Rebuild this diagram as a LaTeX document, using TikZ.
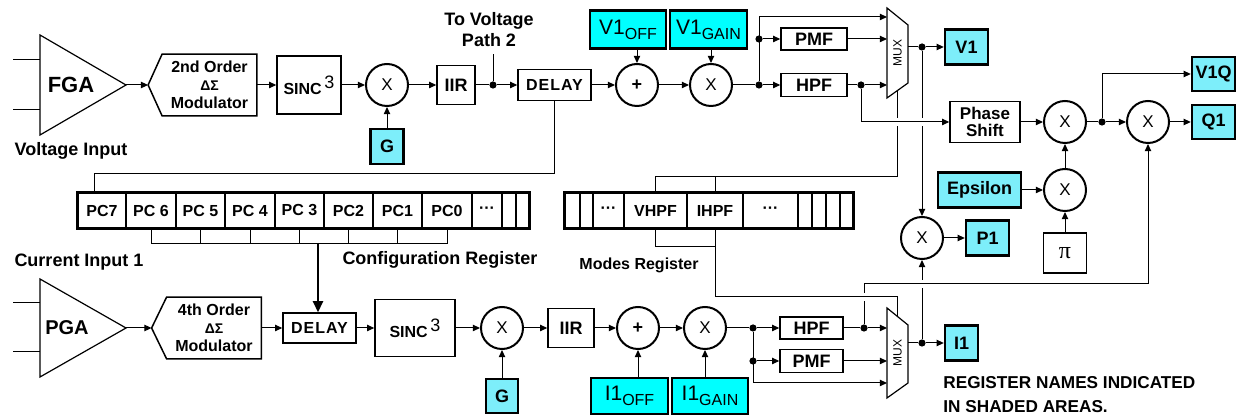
\documentclass[tikz,border=0pt]{standalone}
\usepackage{fontspec}
\setmainfont{Liberation Sans}
\newfontfamily\pifont{Liberation Serif}
\newfontfamily\wideletters[LetterSpace=6.0]{Liberation Sans}
\usetikzlibrary{arrows.meta,positioning,calc}
\definecolor{regcolor}{RGB}{125,238,250}
\definecolor{calcolor}{RGB}{0,255,255}
\newcommand{\regsub}[2]{#1\raisebox{-2.5pt}{\fontsize{8}{9}\selectfont #2}}
\newcommand{\sincthree}{SINC\,{\mdseries\fontsize{9}{10}\selectfont\raisebox{3pt}{3}}}

\begin{document}
\begin{tikzpicture}[x=0.5pt, y=-0.5pt,
    block/.style={rectangle, draw, line width=0.75pt, inner sep=0pt, align=center, font=\bfseries\fontsize{9}{10}\selectfont},
    regbox/.style={block, fill=regcolor, line width=1.2pt, minimum width=21.5pt, minimum height=17.5pt},
    calbox/.style={rectangle, draw, fill=calcolor, line width=1.2pt, inner sep=0pt, minimum width=38pt, minimum height=19pt, font=\fontsize{10.5}{12}\selectfont},
    mult/.style={circle, draw, line width=1pt, minimum size=21pt, inner sep=0pt, font=\fontsize{8.5}{10}\selectfont},
    modtext/.style={inner sep=0pt, minimum width=47pt, minimum height=30.5pt, align=center, font=\bfseries\fontsize{8}{9}\selectfont},
    muxtext/.style={inner sep=0pt, rotate=90, font=\fontsize{6}{7}\selectfont},
    cell/.style={rectangle, draw, line width=0.6pt, minimum height=17.5pt, inner sep=0pt, font=\bfseries\fontsize{8}{9}\selectfont},
    wire/.style={line width=0.5pt},
    arrow/.style={wire, -{Triangle[length=3.6pt, width=3.2pt]}},
    junc/.style={circle, fill, inner sep=0pt, minimum size=3.6pt},
    txt/.style={font=\bfseries\fontsize{9}{10.5}\selectfont, align=center},
    gap/.style={draw=white, line width=4pt}
]
    \useasboundingbox (0,0) rectangle (1238,416);

    % Voltage channel
    \coordinate (fgaout) at (126,85);
    \draw[line width=0.6pt] (40,35) -- (fgaout) -- (40,135) -- cycle;
    \draw[wire] (13,60) -- (40,60) (13,110) -- (40,110);
    \node[font=\bfseries\fontsize{11}{12}\selectfont] (fga) at (71,85) {FGA};
    \node[txt] (vin) at (71,151) {Voltage Input};

    \node[modtext] (modV) at (209.5,85) {2nd Order\\{\fontsize{7}{8}\selectfont ΔΣ}\\Modulator};
    \coordinate (modVin) at ($(modV.west)+(-14,0)$);
    \draw[line width=0.75pt] (modVin) -- (modV.north west) -- (modV.north east) -- (modV.south east) -- (modV.south west) -- cycle;

    \node[block, minimum width=32pt, minimum height=29pt, font=\bfseries\fontsize{8}{9}\selectfont] (sincV) at (309,85) {\sincthree};
    \node[mult] (multV) at (387,85) {X};
    \node[regbox, minimum width=16.5pt] (gV) at (387,146.5) {G};
    \node[block, minimum width=19pt, minimum height=19.5pt] (iirV) at (456,85) {IIR};
    \node[junc] (jVa) at (493,85) {};
    \node[txt] (topath) at (489,30) {To Voltage\\Path 2};
    \node[block, minimum width=36.5pt, minimum height=15.5pt] (delayV) at (554.5,85) {{\wideletters\bfseries\fontsize{8}{9}\selectfont DELAY}};
    \node[mult, font=\bfseries\fontsize{9}{10}\selectfont] (addV) at (637,85) {+};
    \node[calbox] (offV) at (628,29.5) {\regsub{V1}{OFF}};
    \node[mult] (gmultV) at (711,85) {X};
    \node[calbox, minimum width=38.5pt] (gainV) at (708.5,29.5) {\regsub{V1}{GAIN}};
    \node[junc] (jVb) at (759,85) {};
    \node[junc] (jVc) at (759,39) {};
    \node[block, minimum width=33pt, minimum height=11pt] (pmfV) at (814,39) {PMF};
    \node[block, minimum width=33pt, minimum height=11.5pt] (hpfV) at (814,85) {HPF};
    \node[junc] (jVd) at (861,85) {};

    % Voltage MUX
    \node[muxtext] (muxV) at (897.5,53) {MUX};
    \draw[line width=0.6pt] ($(muxV)+(-10.5,-45)$) -- ($(muxV)+(10.5,-28)$) -- ($(muxV)+(10.5,30)$) -- ($(muxV)+(-10.5,45)$) -- cycle;
    \coordinate (muxVin) at ($(muxV)+(-10.5,0)$);
    \coordinate (muxVa) at ($(muxV)+(-10.5,-36)$);
    \coordinate (muxVout) at ($(muxV)+(10.5,-6)$);
    \coordinate (muxVsel) at ($(muxV)+(0,38)$);
    \node[junc] (jVe) at (922,47) {};
    \node[regbox] (v1) at (966.5,47) {V1};

    % Phase and power section
    \node[block, minimum width=35pt, minimum height=20.5pt, font=\bfseries\fontsize{8.5}{8.5}\selectfont] (phase) at (985,122) {Phase\\Shift};
    \node[mult] (multPh) at (1065,122) {X};
    \node[regbox, minimum width=41.5pt] (eps) at (979.5,190) {Epsilon};
    \node[mult] (multE) at (1065,190) {X};
    \node[block, minimum width=21.5pt, minimum height=20pt, font=\fontsize{12}{13}\selectfont] (piconst) at (1065,253) {{\pifont π}};
    \node[junc] (jQ) at (1102,122) {};
    \node[regbox, minimum height=17pt] (v1q) at (1213.5,74) {V1Q};
    \node[mult] (multQ) at (1148,122) {X};
    \node[regbox, minimum height=17pt] (q1) at (1213.5,122) {Q1};
    \node[mult] (multP) at (922,238) {X};
    \node[regbox] (p1) at (987.5,238) {P1};

    % Current channel
    \coordinate (pgaout) at (126,328);
    \draw[line width=0.6pt] (40,279) -- (pgaout) -- (40,377) -- cycle;
    \draw[wire] (13,303) -- (40,303) (13,352) -- (40,352);
    \node[font=\bfseries\fontsize{10}{11}\selectfont] (pga) at (67,328) {PGA};
    \node[txt] (cin) at (79,262) {Current Input 1};

    \node[modtext] (modI) at (214,328) {4th Order\\{\fontsize{7}{8}\selectfont ΔΣ}\\Modulator};
    \coordinate (modIin) at ($(modI.west)+(-15,0)$);
    \draw[line width=0.75pt] (modIin) -- (modI.north west) -- (modI.north east) -- (modI.south east) -- (modI.south west) -- cycle;

    \node[block, minimum width=36.5pt, minimum height=15pt] (delayI) at (319.5,328) {{\wideletters\bfseries\fontsize{8}{9}\selectfont DELAY}};
    \node[block, minimum width=40pt, minimum height=28.5pt, font=\bfseries\fontsize{8}{9}\selectfont] (sincI) at (415,328) {\sincthree};
    \node[mult] (multI) at (502,328) {X};
    \node[regbox, minimum width=16pt, minimum height=17pt] (gI) at (502,396) {G};
    \node[block, minimum width=23pt, minimum height=19.5pt] (iirI) at (571,328) {IIR};
    \node[mult, font=\bfseries\fontsize{9}{10}\selectfont] (addI) at (638,328) {+};
    \node[calbox, minimum width=38.5pt, minimum height=18pt] (offI) at (629.5,396) {\regsub{I1}{OFF}};
    \node[mult] (gmultI) at (705,328) {X};
    \node[calbox, minimum height=18pt] (gainI) at (710,396) {\regsub{I1}{GAIN}};
    \node[junc] (jIa) at (753,328) {};
    \node[junc] (jIb) at (753,361) {};
    \node[block, minimum width=31.5pt, minimum height=11pt] (hpfI) at (811.5,328) {HPF};
    \node[block, minimum width=31.5pt, minimum height=11.5pt] (pmfI) at (811.5,361) {PMF};
    \node[junc] (jIc) at (864,328) {};

    % Current MUX
    \node[muxtext] (muxI) at (897.5,353) {MUX};
    \draw[line width=0.6pt] ($(muxI)+(-10.5,-45)$) -- ($(muxI)+(10.5,-28)$) -- ($(muxI)+(10.5,30)$) -- ($(muxI)+(-10.5,45)$) -- cycle;
    \coordinate (muxIin) at ($(muxI)+(-10.5,0)$);
    \coordinate (muxIc) at ($(muxI)+(-10.5,30)$);
    \coordinate (muxIout) at ($(muxI)+(10.5,-10)$);
    \coordinate (muxIsel) at ($(muxI)+(0,-37)$);
    \node[junc] (jId) at (922,343) {};
    \node[regbox, minimum width=16.5pt] (i1) at (961.5,343) {I1};

    % Registers
    \foreach \a/\b/\t [count=\i] in {78/126/PC7, 126/176/PC 6, 176/225/PC 5, 225/275/PC 4, 275/324/PC 3, 324/373/PC2, 373/422/PC1, 422/472/PC0, 472/502/···, 502/516/{}, 516/529/{}} {
        \pgfmathsetmacro{\w}{(\b-\a)*0.5}
        \node[cell, minimum width=\w pt] (cfg\i) at ({(\a+\b)/2},210.5) {\t};
    }
    \draw[line width=1.1pt] (cfg1.north west) rectangle (cfg11.south east);
    \node[txt] (cfglabel) at (440,260) {Configuration Register};

    \foreach \a/\b/\t [count=\i] in {565/580/{}, 580/593/{}, 593/624/···, 624/687/VHPF, 687/743/IHPF, 743/798/···, 798/812/{}, 812/826/{}, 826/840/{}, 840/853/{}} {
        \pgfmathsetmacro{\w}{(\b-\a)*0.5}
        \node[cell, minimum width=\w pt] (mode\i) at ({(\a+\b)/2},210.5) {\t};
    }
    \draw[line width=1.1pt] (mode1.north west) rectangle (mode10.south east);
    \node[txt, font=\bfseries\fontsize{8}{9}\selectfont] (modelabel) at (639,265) {Modes Register};

    \node[txt, align=left, anchor=west, inner sep=0pt, font=\bfseries\fontsize{8.6}{12}\selectfont] (note) at (943,395) {REGISTER NAMES INDICATED\\IN SHADED AREAS.};

    % Arrows: voltage channel
    \draw[arrow] (fgaout) -- (modVin);
    \draw[arrow] (modV.east) -- (sincV);
    \draw[arrow] (sincV) -- (multV);
    \draw[arrow] (gV) -- (multV);
    \draw[arrow] (multV) -- (iirV);
    \draw[wire] (iirV) -- (jVa);
    \draw[wire] (jVa) -- (jVa |- topath.south);
    \draw[arrow] (jVa) -- (delayV);
    \draw[arrow] (delayV) -- (addV);
    \draw[arrow] (offV.south -| addV) -- (addV);
    \draw[arrow] (addV) -- (gmultV);
    \draw[arrow] (gainV.south -| gmultV) -- (gmultV);
    \draw[wire] (gmultV) -- (jVb);
    \draw[arrow] (jVb) -- (hpfV);
    \draw[arrow] (jVc) -- (pmfV);
    \draw[arrow] (jVb) |- (muxVa);
    \draw[arrow] (pmfV) -- (pmfV -| muxVin);
    \draw[wire] (hpfV) -- (jVd);
    \draw[arrow] (jVd) -- (jVd -| muxVin);
    \draw[wire] (muxVout) -- (jVe);
    \draw[arrow] (jVe) -- (v1);

    % Arrows: current channel
    \draw[arrow] (pgaout) -- (modIin);
    \draw[arrow] (modI.east) -- (delayI);
    \draw[arrow] (delayI) -- (sincI);
    \draw[arrow] (sincI) -- (multI);
    \draw[arrow] (gI) -- (multI);
    \draw[arrow] (multI) -- (iirI);
    \draw[arrow] (iirI) -- (addI);
    \draw[arrow] (offI.north -| addI) -- (addI);
    \draw[arrow] (addI) -- (gmultI);
    \draw[arrow] (gainI.north -| gmultI) -- (gmultI);
    \draw[wire] (gmultI) -- (jIa);
    \draw[arrow] (jIa) -- (hpfI);
    \draw[arrow] (jIb) -- (pmfI);
    \draw[arrow] (jIa) |- (muxIc);
    \draw[wire] (hpfI) -- (jIc);
    \draw[arrow] (jIc) -- (jIc -| muxIin);
    \draw[arrow] (pmfI) -- (pmfI -| muxIin);
    \draw[wire] (muxIout) -- (jId);
    \draw[arrow] (jId) -- (i1);

    % Register taps
    \coordinate (cfgtap) at (94,193);
    \draw[wire] (delayV.south) |- ($(cfgtap)+(0,-19)$) -- (cfgtap);
    \foreach \i in {2,...,8} \draw[wire] (cfg\i.south) -- ++(0,15);
    \draw[wire] ($(cfg2.south)+(0,15)$) -- ($(cfg8.south)+(0,15)$);
    \coordinate (cfgbus) at (318,243);
    \draw[line width=1.1pt, -{Triangle[length=5.5pt, width=5pt]}] (cfgbus) -- (cfgbus |- delayI.north);
    \draw[wire] (mode5.north) -- ++(0,-16);
    \draw[wire] (mode4.north) -- ++(0,-16) -| (muxVsel);
    \draw[wire] (mode4.south) -- ++(0,18) -| (mode5.south);

    % Phase, power and quadrature
    \draw[arrow] (jVe) -- (multP);
    \draw[arrow] (jId) -- (multP);
    \draw[arrow] (multP) -- (p1);
    \coordinate (hop1) at (muxVsel |- phase.west);
    \coordinate (hop2) at (jVe |- phase.west);
    \draw[gap] ($(hop1)+(-6,0)$) -- ($(hop1)+(6,0)$);
    \draw[gap] ($(hop2)+(-6,0)$) -- ($(hop2)+(6,0)$);
    \draw[arrow] (jVd) |- (phase.west);
    \draw[arrow] (phase) -- (multPh);
    \draw[arrow] (eps) -- (multE);
    \draw[arrow] (piconst) -- (multE);
    \draw[arrow] (multE) -- (multPh);
    \draw[wire] (multPh) -- (jQ);
    \draw[arrow] (jQ) |- (v1q.west);
    \draw[arrow] (jQ) -- (multQ);
    \draw[arrow] (multQ) -- (q1);
    \coordinate (qbus) at ($(jIc)+(0,-44)$);
    \coordinate (hop3) at (qbus -| jId);
    \draw[gap] ($(hop3)+(-6,0)$) -- ($(hop3)+(6,0)$);
    \draw[arrow] (jIc) -- (qbus) -| (multQ);
    \coordinate (ibus) at ($(mode5.south)+(0,68)$);
    \coordinate (hop4) at (jIc |- ibus);
    \draw[gap] ($(hop4)+(-6,0)$) -- ($(hop4)+(6,0)$);
    \draw[wire] (mode5.south) -- (ibus) -| (muxIsel);
\end{tikzpicture}
\end{document}
